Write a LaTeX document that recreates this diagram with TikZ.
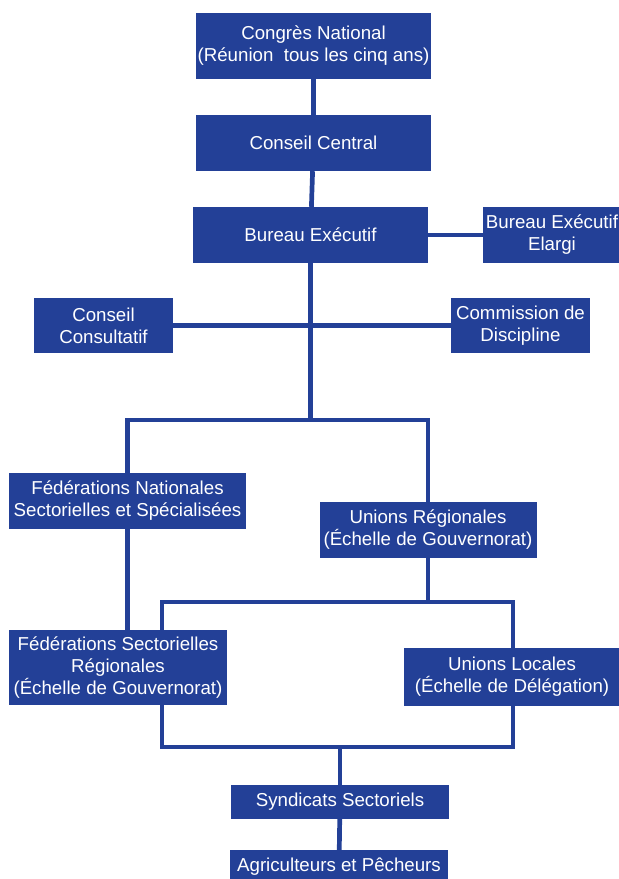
\documentclass[tikz,border=0pt]{standalone}
\usepackage{fontspec}
\setmainfont{Liberation Sans}
\usetikzlibrary{positioning,calc}
\definecolor{ugttblue}{RGB}{35,64,151}

\begin{document}
\begin{tikzpicture}[x=1pt, y=-1pt,
    orgbox/.style={fill=ugttblue, text=white, align=center, inner sep=0pt, font=\fontsize{18.7}{22}\selectfont},
    link/.style={draw=ugttblue, line width=4.7pt, line join=miter}]
    \useasboundingbox (0,0) rectangle (619,879);

    % Top levels
    \node[orgbox, minimum width=235pt, minimum height=66pt] (congres) at (313.5,46) {Congrès National\\(Réunion\ \ tous les cinq ans)};
    \node[orgbox, minimum width=235pt, minimum height=56pt] (central) at (313.5,143) {Conseil Central};
    \node[orgbox, minimum width=235pt, minimum height=56pt] (bureau) at (310.5,235) {Bureau Exécutif};
    \node[orgbox, minimum width=138pt, minimum height=56pt] (elargi) at (552,235) {Bureau Exécutif\\Elargi};

    % Side councils
    \node[orgbox, minimum width=139pt, minimum height=55pt] (consultatif) at (103.5,325.5) {Conseil\\Consultatif};
    \node[orgbox, minimum width=139pt, minimum height=55pt] (discipline) at (520.5,325.5) {Commission de\\Discipline};

    % Federations and unions
    \node[orgbox, minimum width=237pt, minimum height=56pt] (fednat) at (127.5,501) {Fédérations Nationales\\Sectorielles et Spécialisées};
    \node[orgbox, minimum width=217pt, minimum height=56pt] (unreg) at (428,530) {Unions Régionales\\(Échelle de Gouvernorat)};
    \node[orgbox, minimum width=218pt, minimum height=75pt] (fedsect) at (118,667.5) {Fédérations Sectorielles\\Régionales\\(Échelle de Gouvernorat)};
    \node[orgbox, minimum width=216pt, minimum height=58pt] (unloc) at (512,677) {Unions Locales\\(Échelle de Délégation)};

    % Base
    \node[orgbox, minimum width=218pt, minimum height=34pt] (syndicats) at (340,802) {Syndicats Sectoriels};
    \node[orgbox, minimum width=218pt, minimum height=34pt] (agri) at (339,867) {Agriculteurs et Pêcheurs};

    % Junction points
    \coordinate (split) at (310.5,420);
    \coordinate (b2l) at (162,602);
    \coordinate (b2r) at (513,602);
    \coordinate (b2bl) at (162,747);
    \coordinate (b2br) at (513,747);
    \coordinate (b2m) at (340,747);

    % Links
    \draw[link] (congres) -- (central);
    \draw[link] (central) -- (bureau);
    \draw[link] (bureau.south) -- (split);
    \draw[link] (bureau) -- (elargi);
    \draw[link] (consultatif.east) -- (discipline.west);
    \draw[link] (fednat.north) |- (split) -| (unreg.north);
    \draw[link] (fednat.south) -- (fednat.south |- fedsect.north);
    \draw[link] (unreg.south) -- (unreg.south |- b2l);
    \draw[link] (b2l |- fedsect.north) -- (b2l) -- (b2r) -- (b2r |- unloc.north);
    \draw[link] (b2l |- fedsect.south) -- (b2bl) -- (b2br) -- (b2r |- unloc.south);
    \draw[link] (b2m) -- (syndicats.north);
    \draw[link] (syndicats) -- (agri);
\end{tikzpicture}
\end{document}
